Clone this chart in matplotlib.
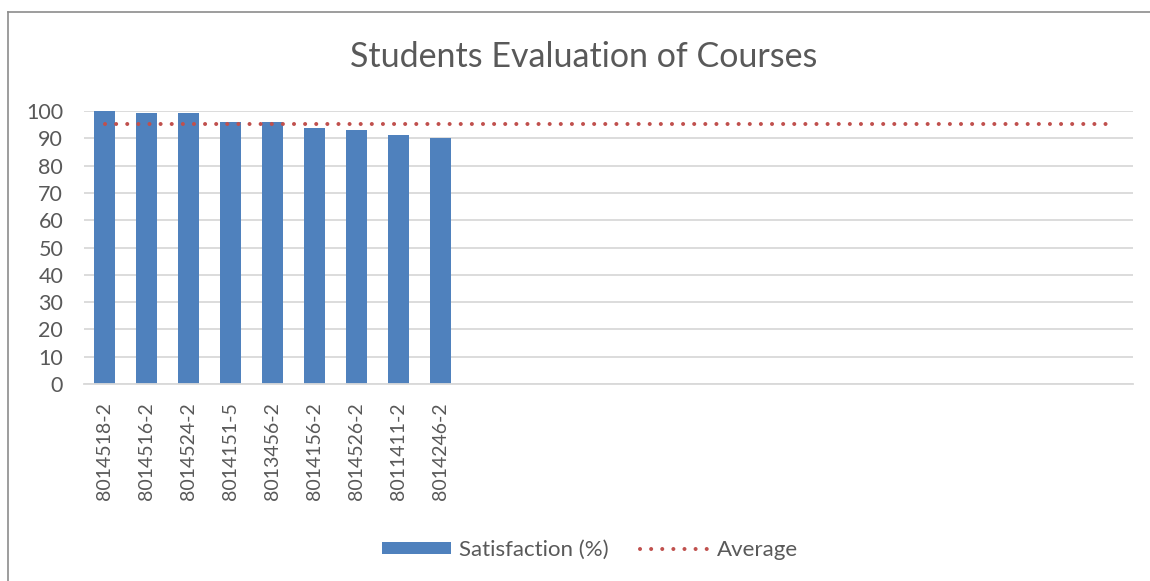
import matplotlib
matplotlib.use("Agg")
import matplotlib.pyplot as plt
from matplotlib.patches import Patch
from matplotlib.lines import Line2D

# chart data
courses = ["8014518-2", "8014516-2", "8014524-2", "8014151-5", "8013456-2",
           "8014156-2", "8014526-2", "8011411-2", "8014246-2"]
satisfaction = [100.0, 99.4, 99.2, 96.1, 96.1, 93.7, 93.1, 91.3, 90.0]
average_value = 95.4
n_slots = 25  # the category axis has room for 25 courses, only 9 are filled
y_ticks = [0, 10, 20, 30, 40, 50, 60, 70, 80, 90, 100]

BAR_COLOR = "#4f81bd"
AVG_COLOR = "#c0504d"
TEXT_COLOR = "#595959"
GRID_COLOR = "#d9d9d9"

plt.rcParams["font.family"] = ["Lato", "DejaVu Sans"]

fig = plt.figure(figsize=(11.5, 5.81), dpi=100)
ax = fig.add_axes([84 / 1150, 1 - 384 / 581, (1133 - 84) / 1150, (384 - 111) / 581])

slots = list(range(n_slots))
ax.bar(range(len(courses)), satisfaction, width=0.5, color=BAR_COLOR, zorder=2)
ax.plot(slots, [average_value] * n_slots, color=AVG_COLOR, linewidth=2.9,
        linestyle=(0, (0.01, 2.75)), dash_capstyle="round", zorder=3)

ax.set_xlim(-0.5, n_slots - 0.5)
ax.set_ylim(0, 100)
ax.set_yticks(y_ticks)
ax.set_xticks(slots)
ax.set_xticklabels(courses + [""] * (n_slots - len(courses)), rotation=90)
ax.tick_params(axis="both", length=0, labelsize=15.5, colors=TEXT_COLOR)
ax.tick_params(axis="x", pad=13, labelsize=14)
ax.tick_params(axis="y", pad=15)
ax.yaxis.grid(True, color=GRID_COLOR, linewidth=1.3, zorder=0)
ax.set_axisbelow(True)
for side in ["top", "right", "left"]:
    ax.spines[side].set_visible(False)
ax.spines["bottom"].set_color(GRID_COLOR)
ax.spines["bottom"].set_linewidth(1.3)

fig.text(584 / 1150, 1 - 57 / 581, "Students Evaluation of Courses", ha="center",
         va="center", fontsize=24.5, color=TEXT_COLOR)

handles = [Patch(facecolor=BAR_COLOR, edgecolor="none"),
           Line2D([0], [0], color=AVG_COLOR, linewidth=2.9,
                  linestyle=(0, (0.01, 2.75)), dash_capstyle="round")]
fig.legend(handles, ["Satisfaction (%)", "Average"], loc="center",
           bbox_to_anchor=(590 / 1150, 1 - 550 / 581), ncol=2, frameon=False,
           fontsize=16, labelcolor=TEXT_COLOR, handlelength=3.1,
           handleheight=0.5, columnspacing=1.4, handletextpad=0.35)

# chart area border (left and top edges visible in the crop)
fig.add_artist(Line2D([8 / 1150, 8 / 1150], [0, 1 - 12 / 581], color="#8c8c8c", linewidth=1.2))
fig.add_artist(Line2D([8 / 1150, 1], [1 - 12 / 581, 1 - 12 / 581], color="#8c8c8c", linewidth=1.2))

fig.savefig("out.png", dpi=100, facecolor="white")
